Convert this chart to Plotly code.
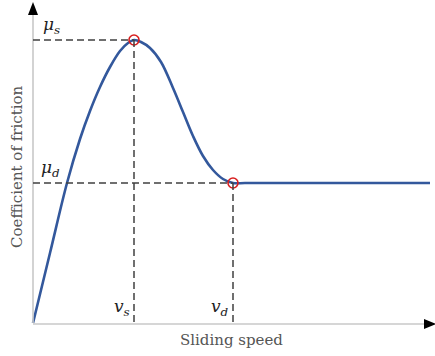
import plotly.graph_objects as go

# Curve data (arbitrary units: sliding speed vs coefficient of friction)
speed = [0, 17, 34, 47, 57, 67, 77, 87, 95, 101, 108, 117, 128, 140, 150, 160, 170, 180, 190, 200, 212, 240, 300, 397]
friction = [0, 70, 140, 184, 212, 236, 256, 272, 280, 283, 281, 275, 261, 235, 211, 187, 167, 153, 144, 140, 140, 140, 140, 140]

v_s, mu_s = 101, 283
v_d, mu_d = 200, 140

x_axis_end = 391
y_axis_end = 308

fig = go.Figure()

dash_style = dict(color="#404040", width=1.5, dash="7px,4px")
axis_style = dict(color="#c8c8c8", width=1.6)

# axes lines
fig.add_shape(type="line", x0=0, y0=-1, x1=x_axis_end, y1=-1, line=axis_style)
fig.add_shape(type="line", x0=0, y0=0, x1=0, y1=y_axis_end, line=axis_style)

# dashed guide lines
fig.add_shape(type="line", x0=0, y0=mu_s, x1=v_s, y1=mu_s, line=dash_style)
fig.add_shape(type="line", x0=v_s, y0=mu_s, x1=v_s, y1=0, line=dash_style)
fig.add_shape(type="line", x0=0, y0=mu_d, x1=v_d, y1=mu_d, line=dash_style)
fig.add_shape(type="line", x0=v_d, y0=mu_d, x1=v_d, y1=0, line=dash_style)

# arrowheads (filled triangles)
ah_w, ah_l = 5, 13
fig.add_trace(go.Scatter(x=[-ah_w, ah_w, 0, -ah_w], y=[y_axis_end, y_axis_end, y_axis_end + ah_l, y_axis_end],
                         fill="toself", fillcolor="black", mode="lines", line=dict(width=0, color="black"),
                         hoverinfo="skip", showlegend=False, cliponaxis=False))
fig.add_trace(go.Scatter(x=[x_axis_end, x_axis_end, x_axis_end + ah_l - 1, x_axis_end],
                         y=[-1 + ah_w, -1 - ah_w, -1, -1 + ah_w],
                         fill="toself", fillcolor="black", mode="lines", line=dict(width=0, color="black"),
                         hoverinfo="skip", showlegend=False, cliponaxis=False))

# curve
fig.add_trace(go.Scatter(x=speed, y=friction, mode="lines",
                         line=dict(color="#33589c", width=2.6, shape="spline", smoothing=1.0),
                         hoverinfo="skip", showlegend=False))

# marked points
fig.add_trace(go.Scatter(x=[v_s, v_d], y=[mu_s, mu_d], mode="markers",
                         marker=dict(size=10, color="rgba(0,0,0,0)", line=dict(color="#d81e1e", width=1.6)),
                         showlegend=False, hoverinfo="skip"))

serif = "DejaVu Serif"
lab_font = dict(family=serif, size=17, color="#222", style="italic")
annots = [
    dict(x=8, y=mu_s + 1, text="μ<sub>s</sub>", xanchor="left", yanchor="bottom"),
    dict(x=6, y=mu_d + 1, text="μ<sub>d</sub>", xanchor="left", yanchor="bottom"),
    dict(x=v_s - 2, y=2, text="v<sub>s</sub>", xanchor="right", yanchor="bottom"),
    dict(x=v_d - 2, y=2, text="v<sub>d</sub>", xanchor="right", yanchor="bottom"),
]
for a in annots:
    fig.add_annotation(**a, showarrow=False, font=lab_font)

fig.add_annotation(x=198, y=-17, text="Sliding speed", showarrow=False,
                   font=dict(family=serif, size=15, color="#555"), xanchor="center", yanchor="middle")
fig.add_annotation(x=-16, y=156, text="Coefficient of friction", showarrow=False, textangle=-90,
                   font=dict(family=serif, size=15, color="#555"), xanchor="center", yanchor="middle")

fig.update_layout(
    width=435, height=356,
    margin=dict(l=0, r=0, t=0, b=0),
    paper_bgcolor="white", plot_bgcolor="white",
    xaxis=dict(range=[-33, 402], visible=False, fixedrange=True),
    yaxis=dict(range=[-33, 323], visible=False, fixedrange=True),
    showlegend=False,
)

fig.write_html("out.html", config={"displayModeBar": False},
               post_script="document.body.style.margin='0';document.body.style.overflow='hidden';")
